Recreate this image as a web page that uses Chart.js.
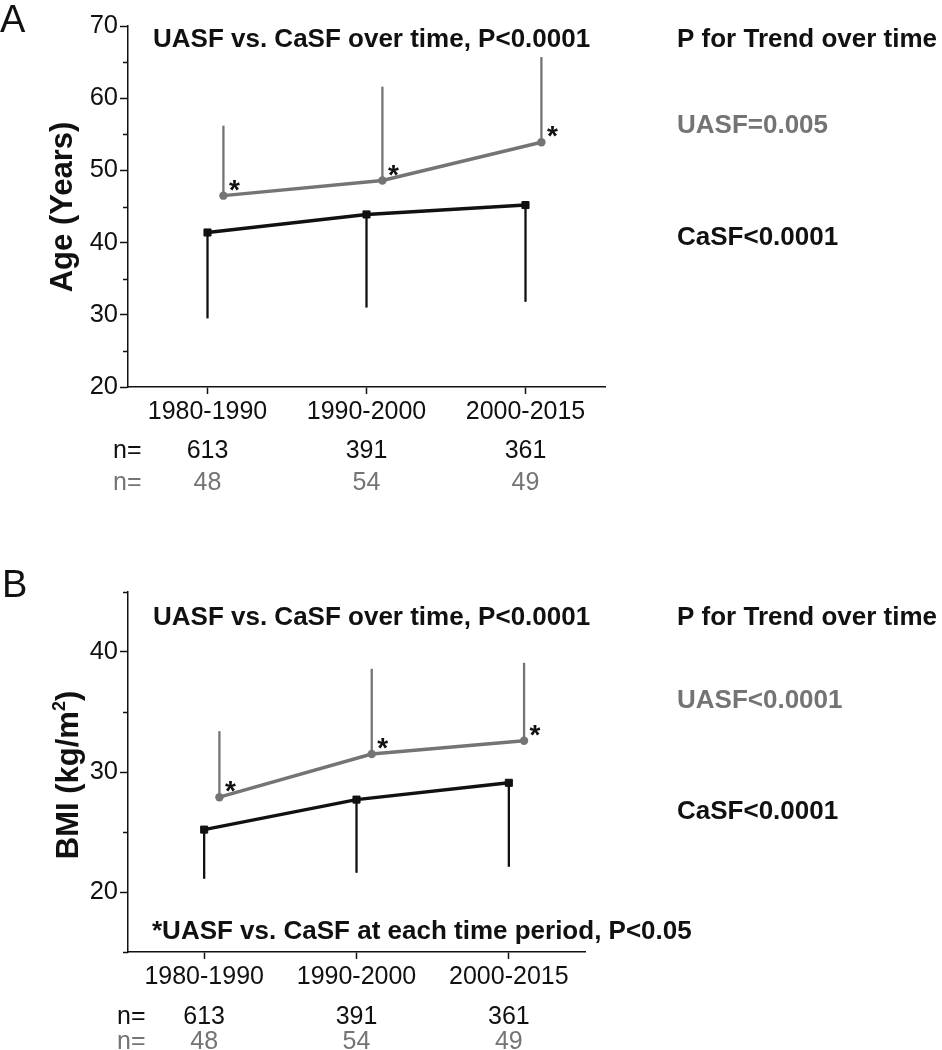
<!DOCTYPE html>
<html><head><meta charset="utf-8">
<script src="https://cdn.jsdelivr.net/npm/chart.js@4.4.1/dist/chart.umd.min.js"></script>
<style>
html,body{margin:0;padding:0;background:#fff;}
#wrap{position:relative;width:942px;height:1050px;overflow:hidden;background:#fff;}
.panel{position:absolute;left:0;width:942px;height:525px;}
canvas{display:block;}
</style></head><body>
<div id="wrap">
<div class="panel" style="top:0"><canvas id="cA" width="942" height="525"></canvas></div>
<div class="panel" style="top:525px"><canvas id="cB" width="942" height="525"></canvas></div>
</div>
<script>
// ---- data ----
const periods = ['1980-1990', '1990-2000', '2000-2015'];
const nCaSF = [613, 391, 361];
const nUASF = [48, 54, 49];

const caSFAge = [41.4, 43.9, 45.2];
const caSFAgeLower = [29.5, 31.0, 31.8];
const uasfAge = [46.5, 48.6, 53.9];
const uasfAgeUpper = [56.2, 61.6, 65.7];

const caSFBmi = [25.2, 27.7, 29.1];
const caSFBmiLower = [21.1, 21.6, 22.1];
const uasfBmi = [27.9, 31.5, 32.6];
const uasfBmiUpper = [33.4, 38.6, 39.1];

const ageMajorTicks = [20, 30, 40, 50, 60, 70];
const ageMinorTicks = [25, 35, 45, 55, 65];
const bmiMajorTicks = [20, 30, 40];
const bmiMinorTicks = [15, 25, 35, 45];

// ---- style ----
const FONT = '"Liberation Sans", Arial, Helvetica, sans-serif';
const BLACK = '#111111';
const GRAY = '#747474';
const UASF_SHIFT = 0.1;

const panelPlugin = {
  id: 'panelPlugin',
  beforeDatasetsDraw(chart) {
    const ctx = chart.ctx, ys = chart.scales.y;
    chart.data.datasets.forEach((ds, di) => {
      if (!ds.errEnd) return;
      const meta = chart.getDatasetMeta(di);
      ctx.save();
      ctx.strokeStyle = ds.borderColor;
      ctx.lineWidth = 2.3;
      meta.data.forEach((pt, i) => {
        ctx.beginPath();
        ctx.moveTo(pt.x, pt.y);
        ctx.lineTo(pt.x, ys.getPixelForValue(ds.errEnd[i]));
        ctx.stroke();
      });
      ctx.restore();
    });
  },
  afterDatasetsDraw(chart) {
    const ctx = chart.ctx;
    chart.data.datasets.forEach((ds, di) => {
      if (!ds.star) return;
      const meta = chart.getDatasetMeta(di);
      ctx.save();
      ctx.fillStyle = BLACK;
      ctx.font = 'bold 28px ' + FONT;
      ctx.textAlign = 'center';
      ctx.textBaseline = 'alphabetic';
      meta.data.forEach(pt => ctx.fillText('*', pt.x + 11, pt.y + 3));
      ctx.restore();
    });
  },
  afterDraw(chart) {
    const ctx = chart.ctx;
    const o = chart.options.plugins.panelPlugin;
    const ys = chart.scales.y, xs = chart.scales.x;
    ctx.save();
    // minor ticks
    ctx.strokeStyle = BLACK; ctx.lineWidth = 1.5;
    o.minor.forEach(v => {
      const y = Math.round(ys.getPixelForValue(v)) + 0.5;
      ctx.beginPath(); ctx.moveTo(ys.right - 5, y); ctx.lineTo(ys.right, y); ctx.stroke();
    });
    // free texts
    ctx.textBaseline = 'alphabetic';
    ctx.textAlign = 'left';
    o.texts.forEach(t => {
      ctx.font = t.font; ctx.fillStyle = t.color;
      ctx.fillText(t.text, t.x, t.y);
    });
    // n rows
    ctx.font = '25px ' + FONT;
    [[nCaSF, BLACK, o.nY[0]], [nUASF, GRAY, o.nY[1]]].forEach(([arr, col, y]) => {
      ctx.fillStyle = col;
      ctx.textAlign = 'left';
      ctx.fillText('n=', o.nX, y);
      ctx.textAlign = 'center';
      arr.forEach((n, i) => ctx.fillText(String(n), xs.getPixelForValue(i), y));
    });
    // y-axis title (rotated)
    ctx.translate(o.yTitle.x, o.yTitle.y);
    ctx.rotate(-Math.PI / 2);
    ctx.fillStyle = BLACK;
    ctx.textAlign = 'left';
    const mainFont = 'bold 31px ' + FONT, supFont = 'bold 18px ' + FONT;
    const parts = o.yTitle.parts;
    let total = 0;
    parts.forEach(p => { ctx.font = p.sup ? supFont : mainFont; total += ctx.measureText(p.t).width; });
    let cx = -total / 2;
    parts.forEach(p => {
      ctx.font = p.sup ? supFont : mainFont;
      ctx.fillText(p.t, cx, p.sup ? -13 : 0);
      cx += ctx.measureText(p.t).width;
    });
    ctx.restore();
  }
};

function makePanel(id, cfg) {
  return new Chart(document.getElementById(id), {
    type: 'line',
    data: {
      datasets: [
        {
          label: 'CaSF',
          data: periods.map((p, i) => ({ x: i, y: cfg.ca[i] })),
          errEnd: cfg.caLow,
          borderColor: BLACK, backgroundColor: BLACK,
          borderWidth: 3.4, tension: 0,
          pointStyle: 'rect', pointRadius: 5, pointBorderWidth: 1
        },
        {
          label: 'UASF',
          data: periods.map((p, i) => ({ x: i + UASF_SHIFT, y: cfg.ua[i] })),
          errEnd: cfg.uaHigh, star: true,
          borderColor: GRAY, backgroundColor: GRAY,
          borderWidth: 3.4, tension: 0,
          pointStyle: 'circle', pointRadius: 4.2, pointBorderWidth: 0
        }
      ]
    },
    options: {
      responsive: false, animation: false, devicePixelRatio: 1,
      layout: { padding: { left: 0, right: cfg.padRight, top: cfg.padTop, bottom: 0 } },
      plugins: {
        legend: { display: false }, tooltip: { enabled: false },
        panelPlugin: cfg.extra
      },
      scales: {
        x: {
          type: 'linear', min: -0.5, max: 2.5,
          afterBuildTicks: s => { s.ticks = periods.map((p, i) => ({ value: i })); },
          afterFit: s => { s.height = cfg.xHeight; },
          ticks: {
            callback: (v, i) => periods[i],
            color: BLACK, font: { family: FONT, size: 25 },
            padding: 3, maxRotation: 0, autoSkip: false
          },
          grid: { drawOnChartArea: false, tickLength: 7, tickColor: BLACK, tickWidth: 1.5 },
          border: { color: BLACK, width: 1.5 }
        },
        y: {
          min: cfg.yMin, max: cfg.yMax,
          afterBuildTicks: s => { s.ticks = cfg.major.map(v => ({ value: v })); },
          afterFit: s => { s.width = 128; },
          ticks: { color: BLACK, font: { family: FONT, size: 25.5 }, padding: 2 },
          grid: { drawOnChartArea: false, tickLength: 8, tickColor: BLACK, tickWidth: 1.5 },
          border: { color: BLACK, width: 1.5 }
        }
      }
    },
    plugins: [panelPlugin]
  });
}

const BOLD = 'bold 26px ' + FONT;

makePanel('cA', {
  ca: caSFAge, caLow: caSFAgeLower, ua: uasfAge, uaHigh: uasfAgeUpper,
  yMin: 20, yMax: 70, major: ageMajorTicks,
  padTop: 26, padRight: 942 - 605, xHeight: 525 - 387,
  extra: {
    minor: ageMinorTicks,
    nX: 113, nY: [458, 490],
    yTitle: { x: 72, y: 207, parts: [{ t: 'Age (Years)' }] },
    texts: [
      { text: 'A', x: 0, y: 32, font: '38px ' + FONT, color: BLACK },
      { text: 'UASF vs. CaSF over time, P<0.0001', x: 153, y: 47, font: BOLD, color: BLACK },
      { text: 'P for Trend over time', x: 677, y: 47, font: BOLD, color: BLACK },
      { text: 'UASF=0.005', x: 677, y: 133, font: BOLD, color: GRAY },
      { text: 'CaSF<0.0001', x: 677, y: 245, font: BOLD, color: BLACK }
    ]
  }
});

makePanel('cB', {
  ca: caSFBmi, caLow: caSFBmiLower, ua: uasfBmi, uaHigh: uasfBmiUpper,
  yMin: 15, yMax: 45, major: bmiMajorTicks,
  padTop: 592 - 525, padRight: 942 - 585, xHeight: 525 - 427,
  extra: {
    minor: bmiMinorTicks,
    nX: 117, nY: [499, 524],
    yTitle: { x: 78, y: 250, parts: [{ t: 'BMI (kg/m' }, { t: '2', sup: true }, { t: ')' }] },
    texts: [
      { text: 'B', x: 2, y: 72, font: '38px ' + FONT, color: BLACK },
      { text: 'UASF vs. CaSF over time, P<0.0001', x: 153, y: 100, font: BOLD, color: BLACK },
      { text: 'P for Trend over time', x: 677, y: 100, font: BOLD, color: BLACK },
      { text: 'UASF<0.0001', x: 677, y: 183, font: BOLD, color: GRAY },
      { text: 'CaSF<0.0001', x: 677, y: 294, font: BOLD, color: BLACK },
      { text: '*UASF vs. CaSF at each time period, P<0.05', x: 152, y: 414, font: BOLD, color: BLACK }
    ]
  }
});
</script>
</body></html>
